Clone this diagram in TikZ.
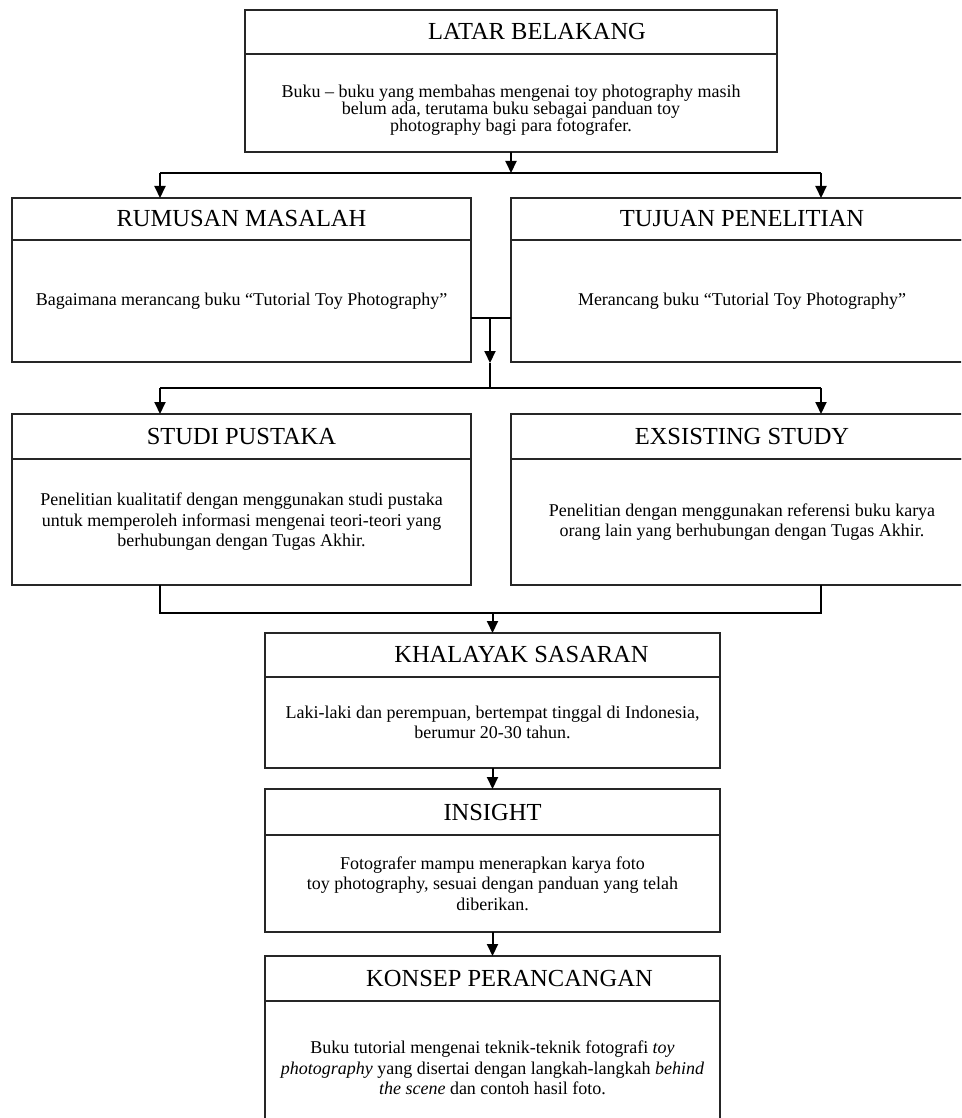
\documentclass[tikz,border=0pt]{standalone}
\usepackage{fontspec}
\setmainfont{Liberation Serif}
\usetikzlibrary{positioning,arrows.meta}

\begin{document}
\begin{tikzpicture} [x=1pt, y=-1pt, line width=2pt,
				head/.style={
				% The shape:
				rectangle,
				% The size:
      				minimum height=44pt, inner sep=0pt, outer sep=0pt,
				% The border:
     				 draw=black!85,
				% Font
				font=\fontsize{24.5}{26}\selectfont
    				},
				body/.style={
				% The shape:
				rectangle,
				% The size:
      				inner sep=0pt, outer sep=0pt,
				% The border:
     				 draw=black!85,
				align=center,
				% Font
				font=\fontsize{18}{20.5}\selectfont
    				},
				arr/.style={-{Triangle[length=12pt,width=11pt]}},
				]
    \useasboundingbox (0,0) rectangle (961,1118);
    \clip (0,0) rectangle (961,1118);
    % top
    \node [head, minimum width=532pt, anchor=north west] (latar) at (245,10) {\hspace*{52pt}LATAR BELAKANG};
    \node [body, minimum width=532pt, minimum height=98pt, below=0pt of latar, font=\fontsize{18}{17}\selectfont] (latarTxt)
        {\mbox{}\\[9pt]Buku -- buku yang membahas mengenai toy photography masih\\ belum ada, terutama buku sebagai panduan toy\\ photography bagi para fotografer.};
    % second row
    \node [head, minimum width=459pt, minimum height=42pt, anchor=north west] (rumusan) at (12,198) {RUMUSAN MASALAH};
    \node [body, minimum width=459pt, minimum height=122pt, below=0pt of rumusan] (rumusanTxt)
        {Bagaimana merancang buku ``Tutorial Toy Photography''};
    \node [head, minimum width=462pt, minimum height=42pt, anchor=north west] (tujuan) at (511,198) {TUJUAN PENELITIAN};
    \node [body, minimum width=462pt, minimum height=122pt, below=0pt of tujuan] (tujuanTxt)
        {Merancang buku ``Tutorial Toy Photography''};
    % third row
    \node [head, minimum width=459pt, minimum height=45pt, anchor=north west] (studi) at (12,414) {STUDI PUSTAKA};
    \node [body, minimum width=459pt, minimum height=126pt, below=0pt of studi] (studiTxt)
        {Penelitian kualitatif dengan menggunakan studi pustaka\\ untuk memperoleh informasi mengenai teori-teori yang\\ berhubungan dengan Tugas Akhir.};
    \node [head, minimum width=462pt, minimum height=45pt, anchor=north west] (exsist) at (511,414) {EXSISTING STUDY};
    \node [body, minimum width=462pt, minimum height=126pt, below=0pt of exsist] (exsistTxt)
        {Penelitian dengan menggunakan referensi buku karya\\ orang lain yang berhubungan dengan Tugas Akhir.};
    % lower column
    \node [head, minimum width=455pt, anchor=north west] (khalayak) at (265,633) {\hspace*{58pt}KHALAYAK SASARAN};
    \node [body, minimum width=455pt, minimum height=91pt, below=0pt of khalayak] (khalayakTxt)
        {Laki-laki dan perempuan, bertempat tinggal di Indonesia,\\ berumur 20-30 tahun.};
    \node [head, minimum width=455pt, minimum height=46pt, anchor=north west] (insight) at (265,789) {INSIGHT};
    \node [body, minimum width=455pt, minimum height=97pt, below=0pt of insight] (insightTxt)
        {Fotografer mampu menerapkan karya foto\\ toy photography, sesuai dengan panduan yang telah\\ diberikan.};
    \node [head, minimum width=455pt, minimum height=45pt, anchor=north west] (konsep) at (265,956) {\hspace*{34pt}KONSEP PERANCANGAN};
    \node [body, minimum width=455pt, minimum height=134pt, below=0pt of konsep] (konsepTxt)
        {Buku tutorial mengenai teknik-teknik fotografi \textit{toy}\\ \textit{photography} yang disertai dengan langkah-langkah \textit{behind}\\ \textit{the scene} dan contoh hasil foto.};

    % connectors
    \coordinate (tA) at (511,173);
    \coordinate (tL) at (160,173);
    \coordinate (tR) at (821,173);
    \draw [arr] (latarTxt.south) -- (tA);
    \draw (tL) -- (tR);
    \draw [arr] (tL) -- (rumusan.north -| tL);
    \draw [arr] (tR) -- (tujuan.north -| tR);

    \coordinate (mA) at (490,318);
    \coordinate (mTip) at (490,363);
    \coordinate (mB) at (490,388);
    \coordinate (mL) at (160,388);
    \coordinate (mR) at (821,388);
    \draw (rumusanTxt.east |- mA) -- (tujuanTxt.west |- mA);
    \draw [arr] (mA) -- (mTip);
    \draw (mTip) -- (mB);
    \draw (mL) -- (mR);
    \draw [arr] (mL) -- (studi.north -| mL);
    \draw [arr] (mR) -- (exsist.north -| mR);

    \coordinate (bL) at (160,613);
    \coordinate (bR) at (821,613);
    \draw (studiTxt.south -| bL) -- (bL) -- (bR) -- (exsistTxt.south -| bR);
    \draw [arr] (khalayak.north |- bL) -- (khalayak.north);
    \draw [arr] (khalayakTxt.south) -- (insight.north);
    \draw [arr] (insightTxt.south) -- (konsep.north);
\end{tikzpicture}
\end{document}
